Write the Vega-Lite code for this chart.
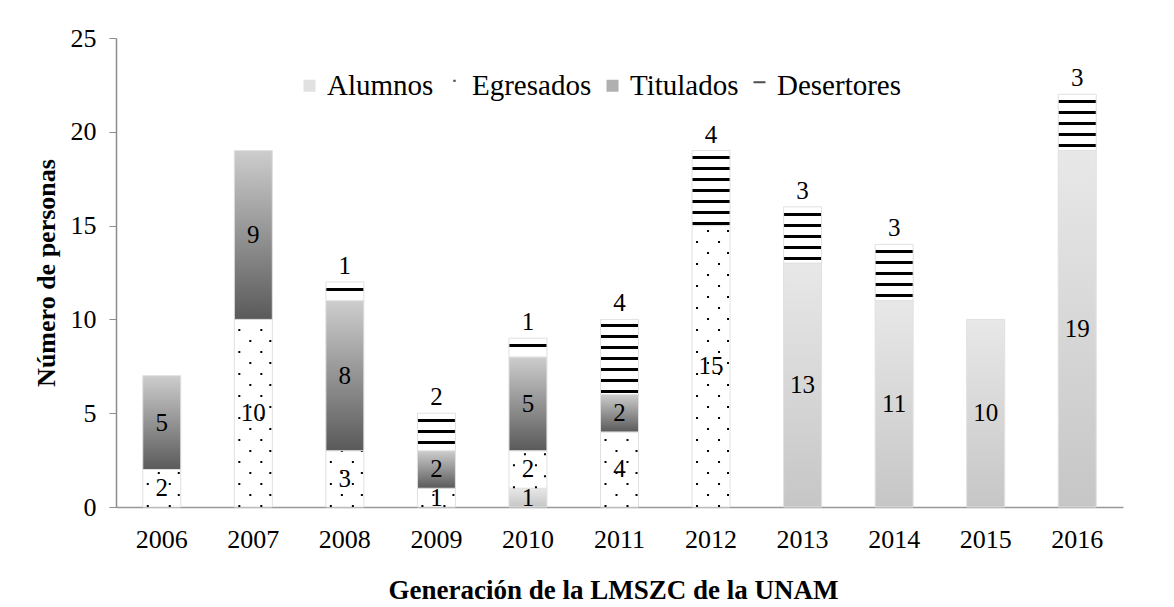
{
  "$schema": "https://vega.github.io/schema/vega-lite/v6.json",
  "autosize": {"type": "none"},
  "width": 1007,
  "height": 469,
  "padding": {"left": 116, "top": 38, "right": 51, "bottom": 100},
  "background": "white",
  "config": {
    "font": "Liberation Serif",
    "view": {"stroke": null},
    "axis": {"labelFont": "Liberation Serif", "titleFont": "Liberation Serif", "labelColor": "black", "titleColor": "black", "grid": false}
  },
  "data": {
    "values": [
      {"year": "2006", "cat": "Egresados", "value": 2},
      {"year": "2006", "cat": "Titulados", "value": 5},
      {"year": "2007", "cat": "Egresados", "value": 10},
      {"year": "2007", "cat": "Titulados", "value": 9},
      {"year": "2008", "cat": "Egresados", "value": 3},
      {"year": "2008", "cat": "Titulados", "value": 8},
      {"year": "2008", "cat": "Desertores", "value": 1},
      {"year": "2009", "cat": "Egresados", "value": 1},
      {"year": "2009", "cat": "Titulados", "value": 2},
      {"year": "2009", "cat": "Desertores", "value": 2},
      {"year": "2010", "cat": "Alumnos", "value": 1},
      {"year": "2010", "cat": "Egresados", "value": 2},
      {"year": "2010", "cat": "Titulados", "value": 5},
      {"year": "2010", "cat": "Desertores", "value": 1},
      {"year": "2011", "cat": "Egresados", "value": 4},
      {"year": "2011", "cat": "Titulados", "value": 2},
      {"year": "2011", "cat": "Desertores", "value": 4},
      {"year": "2012", "cat": "Egresados", "value": 15},
      {"year": "2012", "cat": "Desertores", "value": 4},
      {"year": "2013", "cat": "Alumnos", "value": 13},
      {"year": "2013", "cat": "Desertores", "value": 3},
      {"year": "2014", "cat": "Alumnos", "value": 11},
      {"year": "2014", "cat": "Desertores", "value": 3},
      {"year": "2015", "cat": "Alumnos", "value": 10},
      {"year": "2016", "cat": "Alumnos", "value": 19},
      {"year": "2016", "cat": "Desertores", "value": 3}
    ]
  },
  "transform": [
    {"stack": "value", "groupby": ["year"], "as": ["y0", "y1"]}
  ],
  "encoding": {
    "x": {
      "field": "year", "type": "ordinal",
      "scale": {"paddingInner": 0.585, "paddingOuter": 0.2925},
      "axis": {
        "title": "Generación de la LMSZC de la UNAM",
        "titleFontSize": 27, "titleFontWeight": "bold",
        "titleX": 497, "titleY": 91, "titleBaseline": "alphabetic",
        "labelAngle": 0, "labelFontSize": 26, "labelPadding": 19,
        "ticks": false, "domainColor": "#999999", "domainWidth": 1.5
      }
    },
    "y": {
      "field": "y0", "type": "quantitative",
      "title": "Número de personas",
      "scale": {"domain": [0, 25], "nice": false},
      "axis": {
        "values": [0, 5, 10, 15, 20, 25],
        "titleFontSize": 26, "titleFontWeight": "bold",
        "titleX": -70, "titleBaseline": "middle",
        "labelFontSize": 26, "labelPadding": 13,
        "tickSize": 7, "tickColor": "#8c8c8c", "domainColor": "#8c8c8c", "domainWidth": 1.5
      }
    }
  },
  "layer": [
    {
      "mark": {"type": "point", "size": 0, "filled": true},
      "encoding": {
        "y": {"field": "y1", "type": "quantitative", "title": "Número de personas"},
        "color": {
          "field": "cat", "type": "nominal",
          "scale": {"domain": ["Alumnos", "Egresados", "Titulados", "Desertores"], "range": ["#d4d4d4", "#000000", "#8f8f8f", "#000000"]},
          "legend": {"orient": "none", "legendX": 179, "legendY": 33, "direction": "horizontal", "title": null, "labelFontSize": 29, "labelFont": "Liberation Serif", "labelColor": "black", "symbolSize": 144, "symbolStrokeWidth": 0, "columnPadding": 6, "labelOffset": 3, "padding": 0}
        },
        "shape": {
          "field": "cat", "type": "nominal",
          "scale": {"domain": ["Alumnos", "Egresados", "Titulados", "Desertores"], "range": ["square", "M-0.2,-1H0.2V-0.65H-0.2Z", "square", "M-1,-0.75H1V-0.42H-1Z"]},
          "legend": {"orient": "none", "legendX": 179, "legendY": 33, "direction": "horizontal", "title": null, "labelFontSize": 29, "labelFont": "Liberation Serif", "labelColor": "black", "symbolSize": 144, "symbolStrokeWidth": 0, "columnPadding": 6, "labelOffset": 3, "padding": 0}
        }
      }
    },
    {
      "transform": [{"filter": "datum.cat === 'Alumnos'"}],
      "mark": {"type": "bar", "stroke": "#e0e0e0", "strokeWidth": 1,
        "fill": {"gradient": "linear", "x1": 0, "y1": 0, "x2": 0, "y2": 1, "stops": [{"offset": 0, "color": "#e8e8e8"}, {"offset": 1, "color": "#c6c6c6"}]}},
      "encoding": {"y2": {"field": "y1"}}
    },
    {
      "transform": [{"filter": "datum.cat === 'Egresados'"}],
      "mark": {"type": "bar", "fill": "#ffffff", "stroke": "#e0e0e0", "strokeWidth": 1},
      "encoding": {"y2": {"field": "y1"}}
    },
    {
      "transform": [{"filter": "datum.cat === 'Egresados'"}],
      "mark": {"type": "rule", "color": "black", "strokeWidth": 2, "strokeDash": [2, 20], "strokeDashOffset": 0, "xOffset": -14},
      "encoding": {"y2": {"field": "y1"}}
    },
    {
      "transform": [{"filter": "datum.cat === 'Egresados'"}],
      "mark": {"type": "rule", "color": "black", "strokeWidth": 2, "strokeDash": [2, 20], "strokeDashOffset": 11, "xOffset": -3},
      "encoding": {"y2": {"field": "y1"}}
    },
    {
      "transform": [{"filter": "datum.cat === 'Egresados'"}],
      "mark": {"type": "rule", "color": "black", "strokeWidth": 2, "strokeDash": [2, 20], "strokeDashOffset": 0, "xOffset": 8},
      "encoding": {"y2": {"field": "y1"}}
    },
    {
      "transform": [{"filter": "datum.cat === 'Egresados'"}],
      "mark": {"type": "rule", "color": "black", "strokeWidth": 2, "strokeDash": [2, 20], "strokeDashOffset": 11, "xOffset": 17},
      "encoding": {"y2": {"field": "y1"}}
    },
    {
      "transform": [{"filter": "datum.cat === 'Titulados'"}],
      "mark": {"type": "bar", "stroke": "#e0e0e0", "strokeWidth": 1,
        "fill": {"gradient": "linear", "x1": 0, "y1": 0, "x2": 0, "y2": 1, "stops": [{"offset": 0, "color": "#cdcdcd"}, {"offset": 1, "color": "#5a5a5a"}]}},
      "encoding": {"y2": {"field": "y1"}}
    },
    {
      "transform": [{"filter": "datum.cat === 'Desertores' && datum.value === 1"}],
      "mark": {"type": "bar", "stroke": "#e0e0e0", "strokeWidth": 1,
        "fill": {"gradient": "linear", "x1": 0, "y1": 0, "x2": 0, "y2": 1, "stops": [
          {"offset": 0, "color": "#ffffff"}, {"offset": 0.30, "color": "#ffffff"}, {"offset": 0.30, "color": "#000000"}, {"offset": 0.46, "color": "#000000"}, {"offset": 0.46, "color": "#ffffff"}, {"offset": 1, "color": "#ffffff"}]}},
      "encoding": {"y2": {"field": "y1"}}
    },
    {
      "transform": [{"filter": "datum.cat === 'Desertores' && datum.value === 2"}],
      "mark": {"type": "bar", "stroke": "#e0e0e0", "strokeWidth": 1,
        "fill": {"gradient": "linear", "x1": 0, "y1": 0, "x2": 0, "y2": 1, "stops": [
          {"offset": 0, "color": "#ffffff"}, {"offset": 0.16, "color": "#ffffff"}, {"offset": 0.16, "color": "#000000"}, {"offset": 0.24, "color": "#000000"}, {"offset": 0.24, "color": "#ffffff"},
          {"offset": 0.453, "color": "#ffffff"}, {"offset": 0.453, "color": "#000000"}, {"offset": 0.533, "color": "#000000"}, {"offset": 0.533, "color": "#ffffff"},
          {"offset": 0.746, "color": "#ffffff"}, {"offset": 0.746, "color": "#000000"}, {"offset": 0.826, "color": "#000000"}, {"offset": 0.826, "color": "#ffffff"}, {"offset": 1, "color": "#ffffff"}]}},
      "encoding": {"y2": {"field": "y1"}}
    },
    {
      "transform": [{"filter": "datum.cat === 'Desertores' && datum.value === 3"}],
      "mark": {"type": "bar", "stroke": "#e0e0e0", "strokeWidth": 1,
        "fill": {"gradient": "linear", "x1": 0, "y1": 0, "x2": 0, "y2": 1, "stops": [
          {"offset": 0, "color": "#ffffff"}, {"offset": 0.1066, "color": "#ffffff"}, {"offset": 0.1066, "color": "#000000"}, {"offset": 0.1599, "color": "#000000"}, {"offset": 0.1599, "color": "#ffffff"},
          {"offset": 0.3021, "color": "#ffffff"}, {"offset": 0.3021, "color": "#000000"}, {"offset": 0.3554, "color": "#000000"}, {"offset": 0.3554, "color": "#ffffff"},
          {"offset": 0.4975, "color": "#ffffff"}, {"offset": 0.4975, "color": "#000000"}, {"offset": 0.5508, "color": "#000000"}, {"offset": 0.5508, "color": "#ffffff"},
          {"offset": 0.6930, "color": "#ffffff"}, {"offset": 0.6930, "color": "#000000"}, {"offset": 0.7463, "color": "#000000"}, {"offset": 0.7463, "color": "#ffffff"},
          {"offset": 0.8884, "color": "#ffffff"}, {"offset": 0.8884, "color": "#000000"}, {"offset": 0.9417, "color": "#000000"}, {"offset": 0.9417, "color": "#ffffff"}, {"offset": 1, "color": "#ffffff"}]}},
      "encoding": {"y2": {"field": "y1"}}
    },
    {
      "transform": [{"filter": "datum.cat === 'Desertores' && datum.value === 4"}],
      "mark": {"type": "bar", "stroke": "#e0e0e0", "strokeWidth": 1,
        "fill": {"gradient": "linear", "x1": 0, "y1": 0, "x2": 0, "y2": 1, "stops": [
          {"offset": 0, "color": "#ffffff"}, {"offset": 0.0666, "color": "#ffffff"}, {"offset": 0.0666, "color": "#000000"}, {"offset": 0.1066, "color": "#000000"}, {"offset": 0.1066, "color": "#ffffff"},
          {"offset": 0.2132, "color": "#ffffff"}, {"offset": 0.2132, "color": "#000000"}, {"offset": 0.2532, "color": "#000000"}, {"offset": 0.2532, "color": "#ffffff"},
          {"offset": 0.3598, "color": "#ffffff"}, {"offset": 0.3598, "color": "#000000"}, {"offset": 0.3998, "color": "#000000"}, {"offset": 0.3998, "color": "#ffffff"},
          {"offset": 0.5064, "color": "#ffffff"}, {"offset": 0.5064, "color": "#000000"}, {"offset": 0.5464, "color": "#000000"}, {"offset": 0.5464, "color": "#ffffff"},
          {"offset": 0.6530, "color": "#ffffff"}, {"offset": 0.6530, "color": "#000000"}, {"offset": 0.6930, "color": "#000000"}, {"offset": 0.6930, "color": "#ffffff"},
          {"offset": 0.7996, "color": "#ffffff"}, {"offset": 0.7996, "color": "#000000"}, {"offset": 0.8396, "color": "#000000"}, {"offset": 0.8396, "color": "#ffffff"},
          {"offset": 0.9462, "color": "#ffffff"}, {"offset": 0.9462, "color": "#000000"}, {"offset": 0.9861, "color": "#000000"}, {"offset": 0.9861, "color": "#ffffff"}, {"offset": 1, "color": "#ffffff"}]}},
      "encoding": {"y2": {"field": "y1"}}
    },
    {
      "transform": [{"filter": "datum.cat !== 'Desertores'"}, {"calculate": "(datum.y0 + datum.y1) / 2", "as": "labelpos"}],
      "mark": {"type": "text", "fontSize": 25, "font": "Liberation Serif", "color": "black", "baseline": "middle", "align": "center"},
      "encoding": {"y": {"field": "labelpos", "type": "quantitative", "title": "Número de personas"}, "text": {"field": "value", "type": "quantitative"}}
    },
    {
      "transform": [{"filter": "datum.cat === 'Desertores'"}],
      "mark": {"type": "text", "fontSize": 25, "font": "Liberation Serif", "color": "black", "baseline": "bottom", "align": "center", "dy": -3},
      "encoding": {"y": {"field": "y1", "type": "quantitative", "title": "Número de personas"}, "text": {"field": "value", "type": "quantitative"}}
    }
  ]
}
